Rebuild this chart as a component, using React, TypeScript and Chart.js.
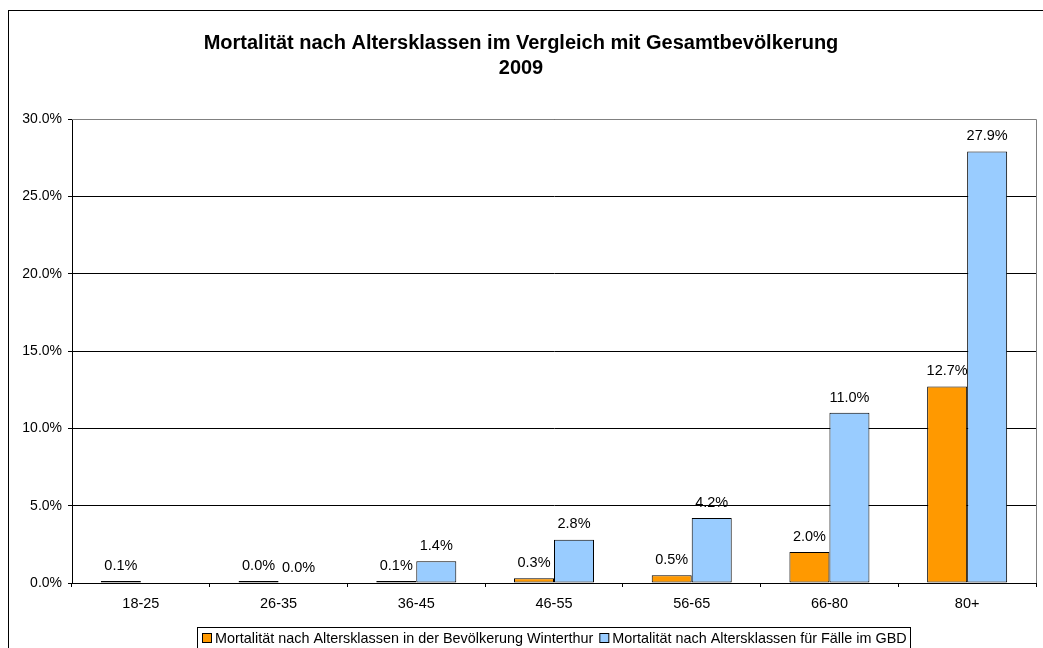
import React, { useEffect, useRef } from 'react';
import { Chart, registerables } from 'chart.js';

Chart.register(...registerables);

const categories = ['18-25', '26-35', '36-45', '46-55', '56-65', '66-80', '80+'];
const winterthurValues: (number | null)[] = [0.08, 0.03, 0.1, 0.3, 0.5, 2.0, 12.7];
const gbdValues: (number | null)[] = [null, 0.0, 1.4, 2.8, 4.2, 11.0, 27.9];
const seriesNames = [
  'Mortalität nach Altersklassen in der Bevölkerung Winterthur',
  'Mortalität nach Altersklassen für Fälle im GBD',
];
const seriesColors = ['#FF9900', '#99CCFF'];
const titleLines = ['Mortalität nach Altersklassen im Vergleich mit Gesamtbevölkerung', '2009'];
const yMin = 0;
const yMax = 30;
const yStep = 5;

const FONT = '"Liberation Sans", Arial, Helvetica, sans-serif';

const decorPlugin = {
  id: 'decor',
  beforeDraw(chart: any) {
    const ctx = chart.ctx;
    ctx.save();
    ctx.fillStyle = '#ffffff';
    ctx.fillRect(0, 0, chart.width, chart.height);
    ctx.strokeStyle = '#000000';
    ctx.lineWidth = 1;
    ctx.strokeRect(8.5, 10.5, 2000, 2000);
    ctx.restore();
  },
  afterDatasetsDraw(chart: any) {
    const ctx = chart.ctx;
    const area = chart.chartArea;
    ctx.save();
    // plot area right/top border (grey)
    ctx.strokeStyle = '#808080';
    ctx.lineWidth = 1;
    ctx.beginPath();
    ctx.moveTo(area.left, Math.round(area.top) + 0.5);
    ctx.lineTo(Math.round(area.right) + 0.5, Math.round(area.top) + 0.5);
    ctx.lineTo(Math.round(area.right) + 0.5, Math.round(area.bottom));
    ctx.stroke();
    // data labels
    ctx.fillStyle = '#000000';
    ctx.font = `14.5px ${FONT}`;
    ctx.textAlign = 'center';
    ctx.textBaseline = 'bottom';
    chart.data.datasets.forEach((ds: any, di: number) => {
      const meta = chart.getDatasetMeta(di);
      meta.data.forEach((el: any, i: number) => {
        const v = ds.data[i];
        if (v === null || v === undefined) return;
        ctx.fillText(v.toFixed(1) + '%', el.x, el.y - 8);
      });
    });
    ctx.restore();
  },
  afterDraw(chart: any) {
    const ctx = chart.ctx;
    ctx.save();
    // title
    ctx.fillStyle = '#000000';
    ctx.font = `bold 20px ${FONT}`;
    ctx.textAlign = 'center';
    ctx.textBaseline = 'alphabetic';
    ctx.fillText(titleLines[0], 521, 49);
    ctx.fillText(titleLines[1], 521, 74);
    // legend
    ctx.strokeStyle = '#000000';
    ctx.lineWidth = 1;
    ctx.strokeRect(197.5, 627.5, 713, 40);
    ctx.font = `14.4px ${FONT}`;
    ctx.textAlign = 'left';
    ctx.textBaseline = 'middle';
    let x = 202;
    seriesNames.forEach((name, i) => {
      ctx.fillStyle = seriesColors[i];
      ctx.fillRect(x + 0.5, 633.5, 9, 9);
      ctx.strokeRect(x + 0.5, 633.5, 9, 9);
      ctx.fillStyle = '#000000';
      ctx.fillText(name, x + 13, 639);
      x += 13 + ctx.measureText(name).width + 6;
    });
    ctx.restore();
  },
};

export default function App() {
  const canvasRef = useRef<HTMLCanvasElement | null>(null);

  useEffect(() => {
    if (!canvasRef.current) return;
    const chart = new Chart(canvasRef.current, {
      type: 'bar',
      data: {
        labels: categories,
        datasets: [
          {
            label: seriesNames[0],
            data: winterthurValues,
            backgroundColor: seriesColors[0],
            borderColor: '#000000',
            borderWidth: 1,
            borderSkipped: false,
            minBarLength: 2,
            categoryPercentage: 0.581,
            barPercentage: 1,
          },
          {
            label: seriesNames[1],
            data: gbdValues,
            backgroundColor: seriesColors[1],
            borderColor: '#000000',
            borderWidth: 1,
            borderSkipped: false,
            categoryPercentage: 0.581,
            barPercentage: 1,
          },
        ],
      },
      options: {
        animation: false,
        responsive: false,
        maintainAspectRatio: false,
        devicePixelRatio: 1,
        layout: { padding: { left: 0, right: 7, top: 119, bottom: 25 } },
        plugins: {
          legend: { display: false },
          title: { display: false },
          tooltip: { enabled: false },
        },
        scales: {
          x: {
            offset: true,
            grid: {
              offset: true,
              drawOnChartArea: false,
              drawTicks: true,
              tickLength: 4,
              color: '#000000',
            },
            border: { color: '#000000', width: 1 },
            ticks: {
              color: '#000000',
              font: { family: FONT, size: 14.5 },
              padding: 8,
              maxRotation: 0,
            },
            afterFit(scale: any) {
              scale.height = 40;
              scale.paddingLeft = 0;
              scale.paddingRight = 0;
            },
          },
          y: {
            min: yMin,
            max: yMax,
            grid: { color: '#000000', tickLength: 4, drawTicks: true },
            border: { color: '#000000', width: 1 },
            ticks: {
              stepSize: yStep,
              color: '#000000',
              font: { family: FONT, size: 14 },
              padding: 6,
              callback: (v: any) => Number(v).toFixed(1) + '%',
            },
            afterFit(scale: any) {
              scale.width = 72;
              scale.paddingTop = 0;
              scale.paddingBottom = 0;
            },
          },
        },
      } as any,
      plugins: [decorPlugin],
    });
    return () => chart.destroy();
  }, []);

  return (
    <div style={{ position: 'fixed', left: 0, top: 0, width: 1043, height: 648, overflow: 'hidden', background: '#fff' }}>
      <canvas ref={canvasRef} width={1043} height={648} style={{ display: 'block', width: 1043, height: 648 }} />
    </div>
  );
}
